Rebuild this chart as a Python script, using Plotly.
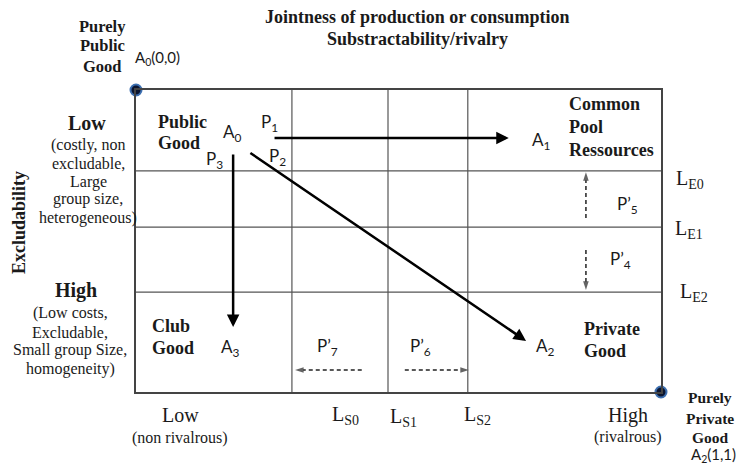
import plotly.graph_objects as go

# ---------------- data (unit space: rivalry 0..1 left->right, excludability 0..1 top->bottom) -------------
rivalry_thresholds = [0.297, 0.480, 0.632]          # L_S0, L_S1, L_S2
rivalry_threshold_labels = ["L<sub>S0</sub>", "L<sub>S1</sub>", "L<sub>S2</sub>"]
exclud_thresholds = [0.268, 0.454, 0.669]           # L_E0, L_E1, L_E2
exclud_threshold_labels = ["L<sub>E0</sub>", "L<sub>E1</sub>", "L<sub>E2</sub>"]

corner_x = [0.0, 1.0]     # A0(0,0) purely public, A2(1,1) purely private
corner_y = [0.0, 1.0]

# solid transition paths (start -> end)
p1_x = [0.261, 0.710]; p1_y = [0.159, 0.159]
p2_x = [0.215, 0.743]; p2_y = [0.205, 0.831]
p3_x = [0.185, 0.185]; p3_y = [0.209, 0.785]
# dashed threshold shifts
p5_x = [0.857, 0.857]; p5_y = [0.424, 0.272]
p4_x = [0.857, 0.857]; p4_y = [0.530, 0.662]
p7_x = [0.430, 0.303]; p7_y = [0.927, 0.927]
p6_x = [0.512, 0.634]; p6_y = [0.927, 0.927]

# ---------------- layout constants (page pixels) -------------
W, H = 746, 465
OFF = 8                      # default body margin of the page
L, T, R, B = 136, 90, 661, 392
PW, PH = R - L, B - T
SERIF = "Liberation Serif, Times New Roman, serif"
SANS = "Lato, Carlito, Calibri, sans-serif"
INK = "#1a1a1a"

fig = go.Figure()

# dashed arrows (shaft + arrow marker at the end)
for xs, ys in [(p5_x, p5_y), (p4_x, p4_y), (p7_x, p7_y), (p6_x, p6_y)]:
    fig.add_trace(go.Scatter(x=xs, y=ys, mode="lines+markers",
                             line=dict(color="#222", width=1.5, dash="4px,3px"),
                             marker=dict(symbol=["circle", "arrow"], size=[0, 9],
                                         angleref="previous", color="#222",
                                         line=dict(width=0)),
                             hoverinfo="skip", showlegend=False, cliponaxis=False))

# corner dots
fig.add_trace(go.Scatter(x=corner_x, y=corner_y, mode="markers",
                         marker=dict(size=11, color="#0b1530", line=dict(color="#3d6fb0", width=2)),
                         hoverinfo="skip", showlegend=False, cliponaxis=False))

annotations = []
shapes = []

# threshold lines
for v in rivalry_thresholds:
    shapes.append(dict(type="line", xref="x", yref="y", x0=v, x1=v, y0=0, y1=1,
                       line=dict(color="#555", width=1.2)))
for v in exclud_thresholds:
    shapes.append(dict(type="line", xref="x", yref="y", x0=0, x1=1, y0=v, y1=v,
                       line=dict(color="#555", width=1.2)))

# solid arrows
for xs, ys in [(p1_x, p1_y), (p2_x, p2_y), (p3_x, p3_y)]:
    annotations.append(dict(x=xs[1], y=ys[1], ax=xs[0], ay=ys[0], xref="x", yref="y",
                            axref="x", ayref="y", text="", showarrow=True,
                            arrowhead=2, arrowsize=1, arrowwidth=2.5, arrowcolor="#000",
                            standoff=0, startstandoff=0))


def txt(s, xp, yp, size, family=SERIF, bold=False, anchor="center", angle=0, color=INK):
    annotations.append(dict(text=f"<b>{s}</b>" if bold else s,
                            x=(xp - L) / PW, y=1 - (yp - T) / PH, xref="paper", yref="paper",
                            showarrow=False, xanchor=anchor, yanchor="middle",
                            textangle=angle, font=dict(size=size, family=family, color=color)))


# title
txt("Jointness of production or consumption", 417, 17, 18, bold=True)
txt("Substractability/rivalry", 417, 39, 18, bold=True)

# top-left
for s, y in [("Purely", 26), ("Public", 46), ("Good", 66)]:
    txt(s, 102, y, 16.5, bold=True)
txt("A<sub>0</sub>(0,0)", 133, 58, 15, family=SANS, anchor="left")

# left axis
txt("Excludability", 19, 223, 18, bold=True, angle=-90)
txt("Low", 87, 123, 20, bold=True)
for s, y in [("(costly, non", 145), ("excludable,", 163), ("Large", 182),
             ("group size,", 199), ("heterogeneous)", 218)]:
    txt(s, 88, y, 16)
txt("High", 76, 290, 20, bold=True)
for s, y in [("(Low costs,", 313), ("Excludable,", 332), ("Small group Size,", 350),
             ("homogeneity)", 369)]:
    txt(s, 70, y, 16)

# cells
txt("Public", 156, 122, 18, bold=True, anchor="left")
txt("Good", 156, 143, 18, bold=True, anchor="left")
txt("A<sub>0</sub>", 232, 133, 17, family=SANS)
txt("P<sub>1</sub>", 269, 123, 17, family=SANS)
txt("P<sub>2</sub>", 277, 157, 17, family=SANS)
txt("P<sub>3</sub>", 214, 160, 17, family=SANS)
txt("A<sub>1</sub>", 541, 141, 17, family=SANS)
for s, y in [("Common", 104), ("Pool", 127), ("Ressources", 150)]:
    txt(s, 567, y, 18, bold=True, anchor="left")
txt("P’<sub>5</sub>", 627, 205, 17, family=SANS)
txt("P’<sub>4</sub>", 620, 260, 17, family=SANS)
txt("Club", 150, 326, 18, bold=True, anchor="left")
txt("Good", 150, 348, 18, bold=True, anchor="left")
txt("A<sub>3</sub>", 230, 348, 17, family=SANS)
txt("P’<sub>7</sub>", 327, 347, 17, family=SANS)
txt("P’<sub>6</sub>", 420, 347, 17, family=SANS)
txt("A<sub>2</sub>", 545, 347, 17, family=SANS)
txt("Private", 582, 329, 18, bold=True, anchor="left")
txt("Good", 582, 351, 18, bold=True, anchor="left")

# right-side excludability thresholds
for lab, (xp, yp) in zip(exclud_threshold_labels, [(674, 179), (673, 230), (678, 292)]):
    txt(lab, xp, yp, 20, anchor="left")

# bottom axis
txt("Low", 180, 415, 20)
txt("(non rivalrous)", 180, 438, 16)
for lab, (xp, yp) in zip(rivalry_threshold_labels, [(330, 415), (388, 417), (462, 415)]):
    txt(lab, xp, yp, 20, anchor="left")
txt("High", 628, 415, 20)
txt("(rivalrous)", 628, 437, 16)
for s, y in [("Purely", 397), ("Private", 418), ("Good", 438)]:
    txt(s, 710, y, 15.5, bold=True)
txt("A<sub>2</sub>(1,1)", 713, 455, 15, family=SANS)

fig.update_layout(
    width=W, height=H,
    margin=dict(l=L - OFF, r=W - R + OFF, t=T - OFF, b=H - B + OFF, pad=0),
    paper_bgcolor="white", plot_bgcolor="white",
    xaxis=dict(range=[0, 1], showgrid=False, zeroline=False, showticklabels=False,
               ticks="", showline=True, mirror=True, linecolor="#444", linewidth=1.5,
               fixedrange=True),
    yaxis=dict(range=[1, 0], showgrid=False, zeroline=False, showticklabels=False,
               ticks="", showline=True, mirror=True, linecolor="#444", linewidth=1.5,
               fixedrange=True),
    shapes=shapes, annotations=annotations, showlegend=False,
)

fig.write_html("out.html")
